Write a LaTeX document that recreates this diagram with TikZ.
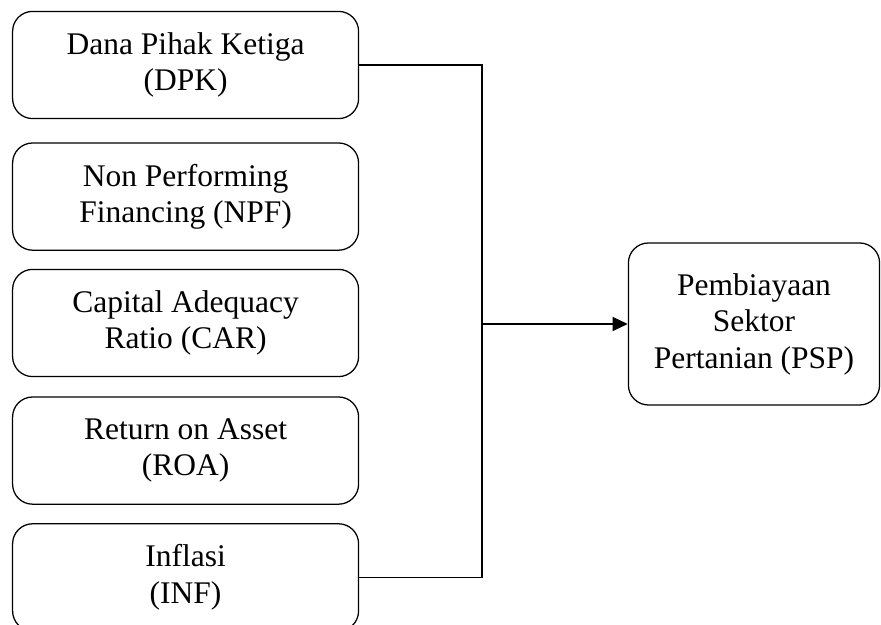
\documentclass[tikz,border=0pt]{standalone}
\usepackage{fontspec}
\setmainfont{Liberation Serif}
\usepackage{tikz}
\usetikzlibrary{arrows.meta,positioning,shapes}

\tikzset{
    varbox/.style={draw,rectangle,rounded corners=0.5cm,line width=0.9pt,align=center,
        minimum width=8.65cm,minimum height=2.68cm,
        font=\fontsize{22.4}{26}\selectfont},
    psbox/.style={varbox,minimum width=6.28cm,minimum height=4.05cm},
    link/.style={line width=1.1pt}
}

\begin{document}
\begin{tikzpicture}
    \useasboundingbox (0,0) rectangle (22.025,15.625);
    % Independent variables
    \node[varbox] (dpk) at (4.64,14.0) {Dana Pihak Ketiga\\(DPK)};
    \node[varbox] (npf) at (4.64,10.71) {Non Performing\\Financing (NPF)};
    \node[varbox] (car) at (4.64,7.55) {Capital Adequacy\\Ratio (CAR)};
    \node[varbox] (roa) at (4.64,4.36) {Return on Asset\\(ROA)};
    \node[varbox] (inf) at (4.64,1.19) {Inflasi\\(INF)};

    % Dependent variable
    \node[psbox] (psp) at (18.85,7.525) {Pembiayaan\\Sektor\\Pertanian (PSP)};

    % Connections
    \coordinate (join) at (12.05,7.525);
    \draw[link] (dpk.east) -| (join);
    \draw[link] (inf.east) -| (join);
    \draw[link,-{Triangle[length=0.38cm,width=0.35cm]}] (join) -- (psp.west);
\end{tikzpicture}
\end{document}
